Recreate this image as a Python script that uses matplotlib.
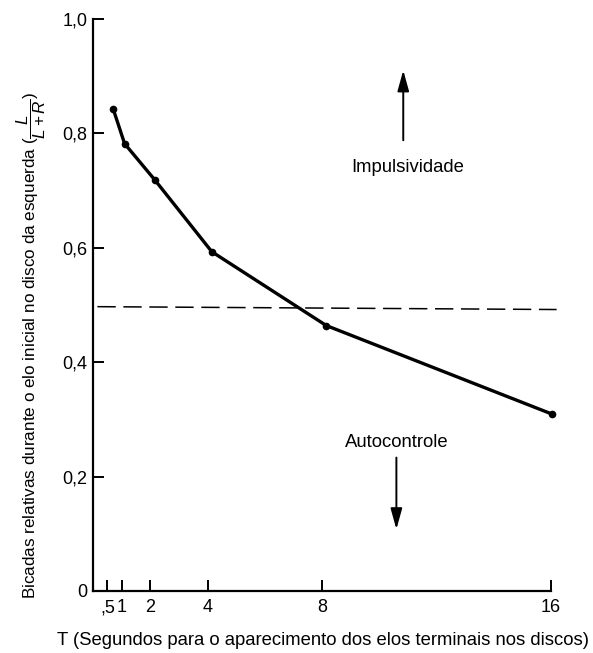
import matplotlib
matplotlib.use('Agg')
import matplotlib.pyplot as plt

plt.rcParams['font.family'] = ['Liberation Sans', 'DejaVu Sans']
plt.rcParams['mathtext.fontset'] = 'custom'
plt.rcParams['mathtext.it'] = 'Liberation Sans:italic'
plt.rcParams['mathtext.rm'] = 'Liberation Sans'

# data
t_secs = [0.7, 1.1, 2.15, 4.15, 8.15, 16.05]
left_prop = [0.843, 0.782, 0.719, 0.593, 0.464, 0.309]
indiff_x = [0.15, 16.2]
indiff_y = [0.497, 0.492]

xtick_vals = [0.5, 1, 2, 4, 8, 16]
xtick_text = [',5', '1', '2', '4', '8', '16']
ytick_vals = [0, 0.2, 0.4, 0.6, 0.8, 1.0]
ytick_text = ['0', '0,2', '0,4', '0,6', '0,8', '1,0']

fig = plt.figure(figsize=(5.93, 6.53), dpi=100)
ax = fig.add_axes([0.157, 0.095, 0.772, 0.876])

# curve
ax.plot(t_secs, left_prop, color='black', lw=2.4, marker='o', ms=4.5,
        solid_capstyle='round', clip_on=False)
# indifference line
ax.plot(indiff_x, indiff_y, color='black', lw=1.1, dashes=(12, 5), clip_on=False)

ax.set_xlim(0, 16)
ax.set_ylim(0, 1.0)
ax.spines['top'].set_visible(False)
ax.spines['right'].set_visible(False)
ax.spines['left'].set_linewidth(1.6)
ax.spines['bottom'].set_linewidth(1.6)

ax.set_xticks(xtick_vals)
ax.set_xticklabels(xtick_text)
ax.set_yticks(ytick_vals)
ax.set_yticklabels(ytick_text)
ax.tick_params(direction='in', length=8, width=1.4, labelsize=13, pad=4)
ax.tick_params(axis='x', pad=6)

ax.set_xlabel('T (Segundos para o aparecimento dos elos terminais nos discos)',
              fontsize=13.3)
ax.xaxis.set_label_coords(0.503, -0.072)
ax.set_ylabel(r'Bicadas relativas durante o elo inicial no disco da esquerda ($\dfrac{L}{L+R}$)',
              fontsize=12.3, va='center', ha='center')
ax.yaxis.set_label_coords(-0.135, 0.43)

# arrows + labels
ax.annotate('', xy=(10.84, 0.915), xytext=(10.84, 0.783),
            arrowprops=dict(arrowstyle='-|>,head_width=0.25,head_length=0.9',
                            color='black', lw=1.4, mutation_scale=14))
ax.text(11.0, 0.741, 'Impulsividade', fontsize=13.3, ha='center', va='center')
ax.annotate('', xy=(10.6, 0.103), xytext=(10.6, 0.238),
            arrowprops=dict(arrowstyle='-|>,head_width=0.25,head_length=0.9',
                            color='black', lw=1.4, mutation_scale=14))
ax.text(10.63, 0.259, 'Autocontrole', fontsize=13.3, ha='center', va='center')

plt.savefig('out.png', dpi=100)
